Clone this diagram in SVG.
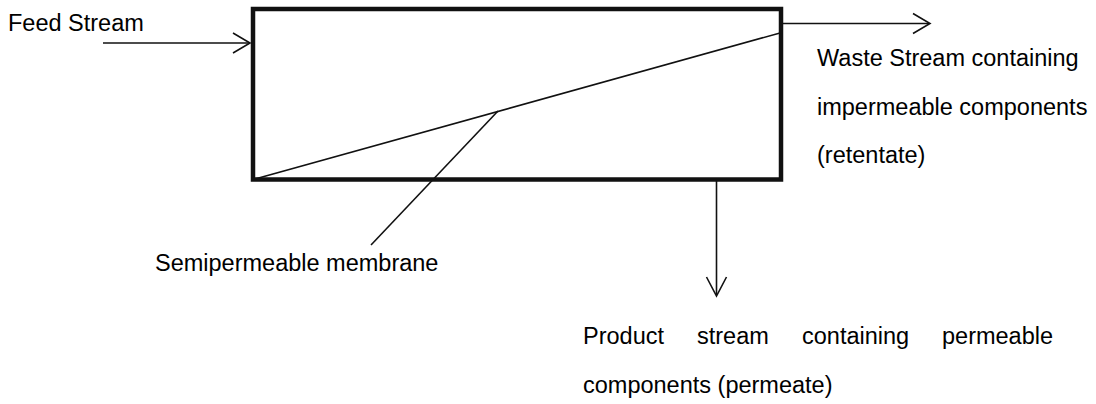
<svg xmlns="http://www.w3.org/2000/svg" width="1096" height="404" viewBox="0 0 1096 404">
<style>
text{font-family:"Liberation Sans",Arial,sans-serif;font-size:23.5px;fill:#000}
.box{fill:none;stroke:#111;stroke-width:4.5}
.ln{fill:none;stroke:#111;stroke-width:1.6}
.ah{fill:none;stroke:#111;stroke-width:1.6;stroke-linejoin:miter}
</style>
<rect width="1096" height="404" fill="#fff"/>
<g id="module">
<rect class="box" x="253" y="9" width="528" height="170.5"/>
</g>
<g id="membrane">
<line class="ln" x1="255" y1="179" x2="780" y2="33"/>
</g>
<g id="connectors">
<line class="ln" x1="103" y1="43" x2="250" y2="43"/>
<polyline class="ah" points="233,33 250,43 233,53"/>
<line class="ln" x1="783" y1="23.5" x2="929" y2="23.5"/>
<polyline class="ah" points="913,13.5 930,23.5 913,33.5"/>
<line class="ln" x1="716.5" y1="181" x2="716.5" y2="295"/>
<polyline class="ah" points="706.5,277 716.5,296 726.5,277"/>
<line class="ln" x1="498" y1="111" x2="371" y2="245"/>
</g>
<g id="feed-label"><text x="8" y="31">Feed Stream</text></g>
<g id="waste-label">
<text x="817" y="66">Waste Stream containing</text>
<text x="817" y="114.5">impermeable components</text>
<text x="817" y="163">(retentate)</text>
</g>
<g id="membrane-label"><text x="155" y="271">Semipermeable membrane</text></g>
<g id="product-label">
<text y="344"><tspan x="583">Product</tspan><tspan x="697">stream</tspan><tspan x="802">containing</tspan><tspan x="942">permeable</tspan></text>
<text x="583" y="392.5">components (permeate)</text>
</g>
</svg>
